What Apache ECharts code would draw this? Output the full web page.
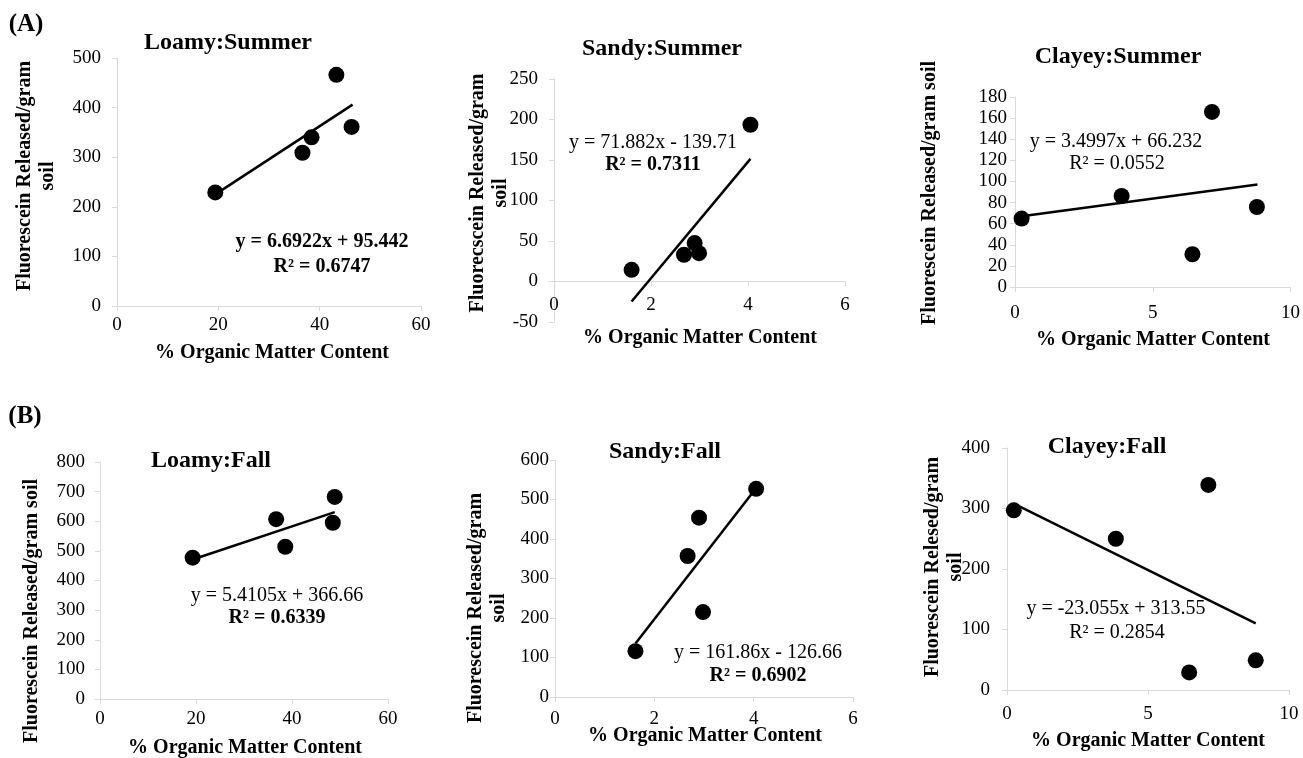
<!DOCTYPE html>
<html>
<head>
<meta charset="utf-8">
<script src="https://cdn.jsdelivr.net/npm/echarts@6/dist/echarts.min.js"></script>
<style>
html,body{margin:0;padding:0;background:#fff;}
#chart{width:1303px;height:758px;}
</style>
</head>
<body>
<div id="chart"></div>
<script>
// ---------- data ----------
const loamySummerOM = [19.4, 36.6, 38.4, 43.3, 46.3];
const loamySummerFR = [229, 309, 340, 466, 361];
const loamySummerTrendOM = [19.4, 46.5];
const loamySummerTrendFR = [225, 406];

const sandySummerOM = [1.60, 2.68, 2.90, 2.99, 4.05];
const sandySummerFR = [14.4, 33, 47.4, 35, 193.5];
const sandySummerTrendOM = [1.60, 4.05];
const sandySummerTrendFR = [-24.7, 151.4];

const clayeySummerOM = [0.24, 3.87, 6.44, 7.15, 8.78];
const clayeySummerFR = [64.8, 86.3, 31, 165.9, 75.8];
const clayeySummerTrendOM = [0.24, 8.8];
const clayeySummerTrendFR = [67.1, 97.0];

const loamyFallOM = [19.3, 36.7, 38.6, 48.9, 48.5];
const loamyFallFR = [477, 607, 514, 682, 595];
const loamyFallTrendOM = [19.3, 48.9];
const loamyFallTrendFR = [471, 631];

const sandyFallOM = [1.62, 2.67, 2.90, 2.98, 4.05];
const sandyFallFR = [116, 357, 454, 215, 527];
const sandyFallTrendOM = [1.62, 4.02];
const sandyFallTrendFR = [135.6, 524];

const clayeyFallOM = [0.24, 3.86, 6.46, 7.14, 8.82];
const clayeyFallFR = [297, 250, 29, 339, 49];
const clayeyFallTrendOM = [0.24, 8.82];
const clayeyFallTrendFR = [308, 110];

// axis ranges / tick steps
const xRanges = [[0, 60, 20], [0, 6, 2], [0, 10, 5], [0, 60, 20], [0, 6, 2], [0, 10, 5]];
const yRanges = [[0, 500, 100], [-50, 250, 50], [0, 180, 20], [0, 800, 100], [0, 600, 100], [0, 400, 100]];

// texts
const panelTitles = ['Loamy:Summer', 'Sandy:Summer', 'Clayey:Summer', 'Loamy:Fall', 'Sandy:Fall', 'Clayey:Fall'];
const equations = ['y = 6.6922x + 95.442', 'y = 71.882x - 139.71', 'y = 3.4997x + 66.232',
                   'y = 5.4105x + 366.66', 'y = 161.86x - 126.66', 'y = -23.055x + 313.55'];
const rSquared = ['R² = 0.6747', 'R² = 0.7311', 'R² = 0.0552', 'R² = 0.6339', 'R² = 0.6902', 'R² = 0.2854'];
const yNames = ['Fluorescein Released/gram\nsoil', 'Fluorecscein Released/gram\nsoil', 'Fluorescein Released/gram soil',
                'Fluorescein Released/gram soil', 'Fluorescein Released/gram\nsoil', 'Fluorescein Relesed/gram\nsoil'];
const xName = '% Organic Matter Content';
const sectionLabels = ['(A)', '(B)'];

// ---------- layout (positions only) ----------
const FONT = '"Liberation Serif", "Times New Roman", serif';
const grids = [
  {left: 117, top: 58, width: 304, height: 248},
  {left: 554, top: 79, width: 291, height: 243},
  {left: 1015, top: 97, width: 276, height: 190},
  {left: 100, top: 462, width: 288, height: 237},
  {left: 555, top: 460, width: 298, height: 237},
  {left: 1007, top: 448, width: 282, height: 242}
];
const xLabelMargin = [10, 14, 17, 11, 13, 15];
const yLabelMargin = [16, 16, 8, 15, 6, 17];
const titlePos = [[228, 43], [662, 49], [1118, 57], [211, 461], [665, 452], [1107, 447]];
const eqPos = [[322, 242], [653, 143], [1116, 142], [277, 596], [758, 653], [1116, 609]];
const r2Pos = [[322, 267], [653, 165], [1117, 164], [277, 618], [758, 676], [1117, 633]];
const eqBold = [true, false, false, false, false, false];
const r2Bold = [true, true, false, true, true, false];
const yNamePos = [[36, 176], [489, 193], [930, 193], [32, 611], [487, 608], [944, 567]];
const xNamePos = [[272, 353], [700, 338], [1153, 340], [245, 748], [705, 736], [1148, 741]];
const sectionPos = [[26, 25], [25, 417]];

const scatterData = [
  [loamySummerOM, loamySummerFR], [sandySummerOM, sandySummerFR], [clayeySummerOM, clayeySummerFR],
  [loamyFallOM, loamyFallFR], [sandyFallOM, sandyFallFR], [clayeyFallOM, clayeyFallFR]
];
const trendData = [
  [loamySummerTrendOM, loamySummerTrendFR], [sandySummerTrendOM, sandySummerTrendFR], [clayeySummerTrendOM, clayeySummerTrendFR],
  [loamyFallTrendOM, loamyFallTrendFR], [sandyFallTrendOM, sandyFallTrendFR], [clayeyFallTrendOM, clayeyFallTrendFR]
];
const zip = (a, b) => a.map((v, i) => [v, b[i]]);

const axisLineStyle = {show: true, onZero: false, lineStyle: {color: '#d9d9d9', width: 1}};
const xAxes = [], yAxes = [], series = [], graphics = [];

grids.forEach((g, i) => {
  const ymin = yRanges[i][0], ymax = yRanges[i][1];
  // x axis crosses the value axis at zero (as in the spreadsheet chart)
  const zeroOffset = ymin < 0 ? -g.height * (0 - ymin) / (ymax - ymin) : 0;
  xAxes.push({
    type: 'value', gridIndex: i, min: xRanges[i][0], max: xRanges[i][1], interval: xRanges[i][2],
    position: 'bottom', offset: zeroOffset,
    axisLine: axisLineStyle,
    axisTick: {show: true, length: 5, lineStyle: {color: '#d9d9d9'}},
    splitLine: {show: false},
    axisLabel: {color: '#000', fontFamily: FONT, fontSize: 19, margin: xLabelMargin[i]}
  });
  yAxes.push({
    type: 'value', gridIndex: i, min: ymin, max: ymax, interval: yRanges[i][2],
    axisLine: axisLineStyle,
    axisTick: {show: true, length: 5, lineStyle: {color: '#d9d9d9'}},
    splitLine: {show: false},
    axisLabel: {color: '#000', fontFamily: FONT, fontSize: 19, margin: yLabelMargin[i]}
  });
  series.push({
    type: 'line', xAxisIndex: i, yAxisIndex: i, data: zip(trendData[i][0], trendData[i][1]),
    showSymbol: false, symbol: 'none', lineStyle: {color: '#000', width: 2.5}, z: 2, silent: true
  });
  series.push({
    type: 'scatter', xAxisIndex: i, yAxisIndex: i, data: zip(scatterData[i][0], scatterData[i][1]),
    symbol: 'circle', symbolSize: 16, itemStyle: {color: '#000', opacity: 1}, z: 3
  });
  const txt = (pos, text, size, bold, rot) => ({
    type: 'text', x: pos[0], y: pos[1], rotation: rot || 0, z: 10,
    style: {text: text, fill: '#000', font: (bold ? 'bold ' : '') + size + 'px ' + FONT,
            align: 'center', verticalAlign: 'middle', lineHeight: 23}
  });
  graphics.push(txt(titlePos[i], panelTitles[i], 24, true));
  graphics.push(txt(eqPos[i], equations[i], 20, eqBold[i]));
  graphics.push(txt(r2Pos[i], rSquared[i], 20, r2Bold[i]));
  graphics.push(txt(yNamePos[i], yNames[i], 20, true, Math.PI / 2));
  graphics.push(txt(xNamePos[i], xName, 20, true));
});
sectionLabels.forEach((s, k) => {
  graphics.push({type: 'text', x: sectionPos[k][0], y: sectionPos[k][1], z: 10,
    style: {text: s, fill: '#000', font: 'bold 25px ' + FONT, align: 'center', verticalAlign: 'middle'}});
});

const chart = echarts.init(document.getElementById('chart'), null, {renderer: 'canvas'});
chart.setOption({
  animation: false,
  backgroundColor: '#fff',
  grid: grids,
  xAxis: xAxes,
  yAxis: yAxes,
  series: series,
  graphic: graphics
});
</script>
</body>
</html>
